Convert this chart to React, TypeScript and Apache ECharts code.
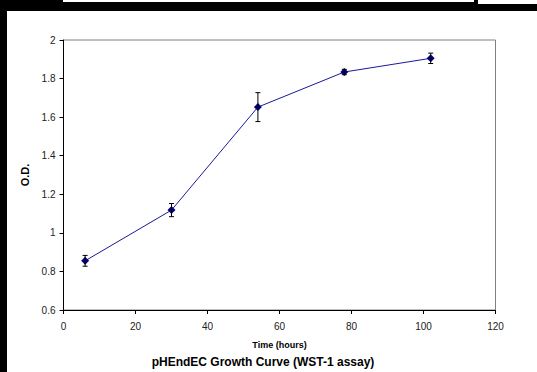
import React, { useEffect, useRef } from "react";
import * as echarts from "echarts";

const hours = [6, 30, 54, 78, 102];
const odValues = [0.855, 1.118, 1.652, 1.834, 1.905];
const odErrors = [0.028, 0.034, 0.075, 0.014, 0.027];
const xTicks = { min: 0, max: 120, interval: 20 };
const yTicks = { min: 0.6, max: 2, interval: 0.2 };

const FONT = "'Liberation Sans', Arial, sans-serif";

export default function App() {
  const ref = useRef<HTMLDivElement>(null);
  useEffect(() => {
    if (!ref.current) return;
    const chart = echarts.init(ref.current, null, { renderer: "svg" });
    const lineData = hours.map((h, i) => [h, odValues[i]]);
    const errData = hours.map((h, i) => [h, odValues[i] - odErrors[i], odValues[i] + odErrors[i]]);
    chart.setOption({
      animation: false,
      backgroundColor: "#ffffff",
      grid: {
        left: 63.5,
        right: 41.5,
        top: 40,
        bottom: 62,
        show: true,
        borderColor: "#808080",
        borderWidth: 1,
        backgroundColor: "#ffffff",
      },
      xAxis: {
        type: "value",
        min: xTicks.min,
        max: xTicks.max,
        interval: xTicks.interval,
        name: "Time (hours)",
        nameLocation: "middle",
        nameGap: 30,
        nameTextStyle: { fontFamily: FONT, fontSize: 9, fontWeight: "bold", color: "#000" },
        axisLine: { show: true, lineStyle: { color: "#000", width: 1 } },
        axisTick: { show: true, inside: false, length: 4, lineStyle: { color: "#000" } },
        axisLabel: { fontFamily: FONT, fontSize: 10, color: "#222", margin: 11 },
        splitLine: { show: false },
      },
      yAxis: {
        type: "value",
        min: yTicks.min,
        max: yTicks.max,
        interval: yTicks.interval,
        name: "O.D.",
        nameLocation: "middle",
        nameGap: 30,
        nameRotate: 90,
        nameTextStyle: { fontFamily: FONT, fontSize: 11, fontWeight: "bold", color: "#000" },
        axisLine: { show: true, lineStyle: { color: "#000", width: 1 } },
        axisTick: { show: true, inside: false, length: 4, lineStyle: { color: "#000" } },
        axisLabel: { fontFamily: FONT, fontSize: 10, color: "#222", margin: 8 },
        splitLine: { show: false },
      },
      series: [
        {
          type: "line",
          data: lineData,
          symbol: "diamond",
          symbolSize: 8,
          itemStyle: { color: "#000080" },
          lineStyle: { color: "#1a1a99", width: 1 },
          z: 3,
        },
        {
          type: "custom",
          data: errData,
          z: 4,
          renderItem: (params: any, api: any) => {
            const x = api.value(0);
            const lo = api.coord([x, api.value(1)]);
            const hi = api.coord([x, api.value(2)]);
            const cap = 2.5;
            const style = { stroke: "#000", lineWidth: 1 };
            return {
              type: "group",
              children: [
                { type: "line", shape: { x1: lo[0], y1: lo[1], x2: hi[0], y2: hi[1] }, style },
                { type: "line", shape: { x1: lo[0] - cap, y1: lo[1], x2: lo[0] + cap, y2: lo[1] }, style },
                { type: "line", shape: { x1: hi[0] - cap, y1: hi[1], x2: hi[0] + cap, y2: hi[1] }, style },
              ],
            };
          },
        },
      ],
      graphic: [
        { type: "rect", left: 0, top: 0, shape: { width: 537, height: 11 }, style: { fill: "#000" }, silent: true },
        { type: "rect", left: 478, top: 0, shape: { width: 59, height: 4 }, style: { fill: "#fff" }, silent: true },
        { type: "rect", left: 63, top: 0, shape: { width: 411, height: 2 }, style: { fill: "#fff" }, silent: true },
        { type: "rect", left: 0, top: 0, shape: { width: 7, height: 372 }, style: { fill: "#000" }, silent: true },
        {
          type: "text",
          x: 263,
          y: 362,
          style: {
            text: "pHEndEC Growth Curve (WST-1 assay)",
            fontFamily: FONT,
            fontSize: 12,
            fontWeight: "bold",
            fill: "#000",
            align: "center",
            verticalAlign: "middle",
          },
        },
      ],
    });
    return () => chart.dispose();
  }, []);
  return (
    <div
      ref={ref}
      style={{ position: "fixed", left: 0, top: 0, width: 537, height: 372 }}
    />
  );
}
